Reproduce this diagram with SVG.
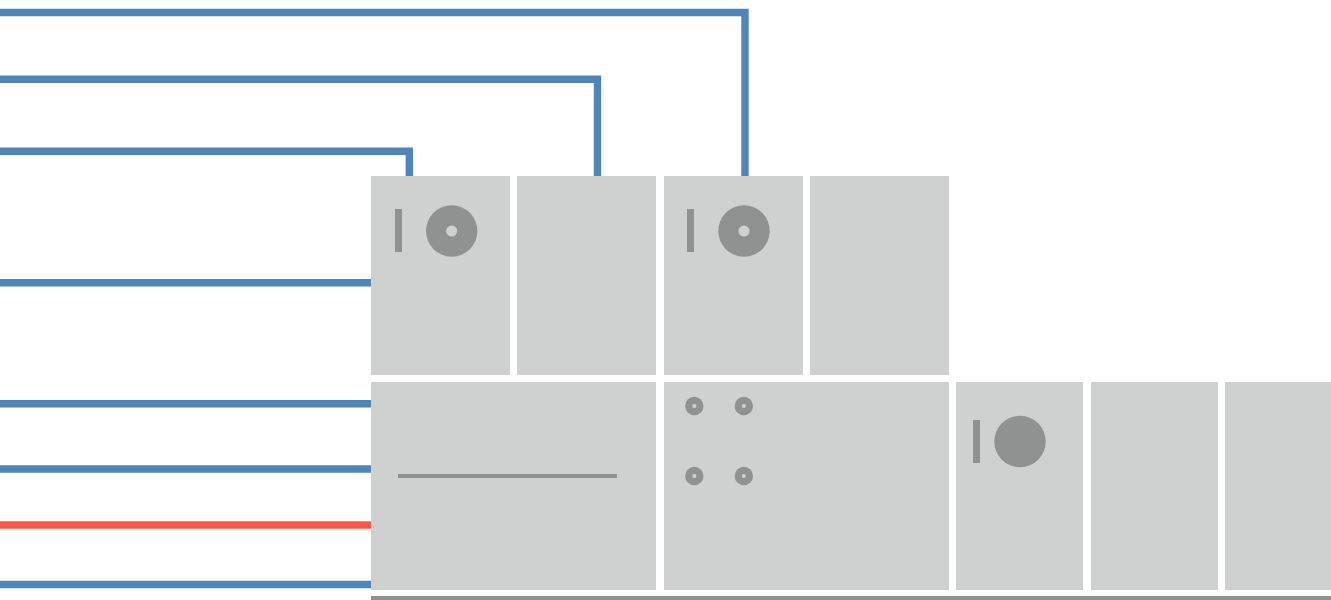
<svg xmlns="http://www.w3.org/2000/svg" width="1331" height="600" viewBox="0 0 1331 600">
<style>
.c{fill:none;stroke:#4f86b7;stroke-width:7.400}
.r{stroke:#f95848}
.b{fill:#cfd1d0}
.g{fill:#8f9291}
.h{fill:#cfd1d0}
</style>
<rect width="1331" height="600" fill="#fff"/>
<g id="connectors">
<path class="c" d="M0 12.500H745V176"/>
<path class="c" d="M0 79.200H597.500V176"/>
<path class="c" d="M0 151.200H409.300V176"/>
<path class="c" d="M0 282.800H371"/>
<path class="c" d="M0 403.700H371"/>
<path class="c" d="M0 469H371"/>
<path class="c r" d="M0 525H371"/>
<path class="c" d="M0 584.500H371"/>
</g>
<g id="node-1"><rect class="b" x="371" y="176" width="139" height="199"/><rect class="g" x="395" y="209" width="7" height="43"/><circle class="g" cx="451.700" cy="231" r="25.700"/><circle class="h" cx="451.700" cy="231" r="5.500"/></g>
<g id="node-2"><rect class="b" x="517" y="176" width="139" height="199"/></g>
<g id="node-3"><rect class="b" x="664" y="176" width="139" height="199"/><rect class="g" x="687" y="209" width="7" height="43"/><circle class="g" cx="744" cy="231" r="25.700"/><circle class="h" cx="744" cy="231" r="5.500"/></g>
<g id="node-4"><rect class="b" x="810" y="176" width="139" height="199"/></g>
<g id="node-5"><rect class="b" x="371" y="382" width="285" height="208"/><rect class="g" x="398" y="474" width="219" height="4"/></g>
<g id="node-6"><rect class="b" x="664" y="382" width="285" height="208"/>
<circle class="g" cx="694.300" cy="406" r="9.200"/><circle class="h" cx="694.300" cy="406" r="2"/>
<circle class="g" cx="743.800" cy="406" r="9.200"/><circle class="h" cx="743.800" cy="406" r="2"/>
<circle class="g" cx="694.300" cy="476" r="9.200"/><circle class="h" cx="694.300" cy="476" r="2"/>
<circle class="g" cx="743.800" cy="476" r="9.200"/><circle class="h" cx="743.800" cy="476" r="2"/></g>
<g id="node-7"><rect class="b" x="956" y="382" width="127" height="208"/><rect class="g" x="973" y="420" width="7" height="43"/><circle class="g" cx="1020" cy="441.500" r="25.700"/></g>
<g id="node-8"><rect class="b" x="1091" y="382" width="127" height="208"/></g>
<g id="node-9"><rect class="b" x="1225" y="382" width="106" height="208"/></g>
<g id="base"><rect class="g" x="371" y="596" width="960" height="4"/></g>
</svg>
